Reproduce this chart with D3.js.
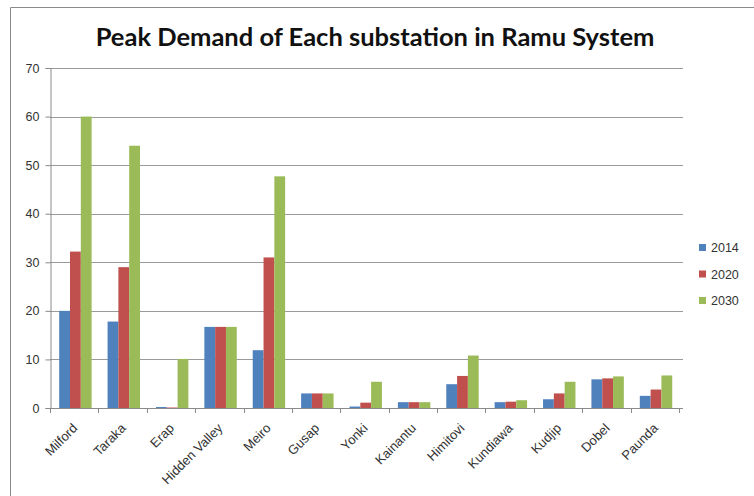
<!DOCTYPE html>
<html><head><meta charset="utf-8">
<script src="https://cdn.jsdelivr.net/npm/d3@7"></script>
<style>
html,body{margin:0;padding:0;background:#fff;}
svg{display:block;}
</style></head>
<body>
<svg id="c" width="754" height="496"></svg>
<script>
const categories = ["Milford","Taraka","Erap","Hidden Valley","Meiro","Gusap","Yonki","Kainantu","Himitovi","Kundiawa","Kudjip","Dobel","Paunda"];
const years = ["2014","2020","2030"];
const v2014 = [20, 17.8, 0.2, 16.7, 11.9, 3.0, 0.3, 1.2, 4.9, 1.2, 1.8, 5.9, 2.5];
const v2020 = [32.2, 29.0, 0.1, 16.7, 31.0, 3.0, 1.1, 1.2, 6.6, 1.3, 3.0, 6.1, 3.8];
const v2030 = [60, 54, 10.1, 16.7, 47.7, 3.0, 5.4, 1.2, 10.8, 1.6, 5.4, 6.5, 6.7];
const yTicks = [0,10,20,30,40,50,60,70];
const colors = ["#4F81BD","#C0504D","#9BBB59"];
const series = [v2014, v2020, v2030];

const svg = d3.select("#c");
const font = "'Liberation Sans', Arial, sans-serif";

// frame
svg.append("path").attr("d","M10.5,496 V7.5 H754").attr("fill","none").attr("stroke","#8a8a8a").attr("stroke-width",1);

const L = 50, R = 679, B = 408, T = 68;
const x = d3.scaleBand().domain(categories).range([L, R]).padding(0);
const bw = x.bandwidth();
const xs = d3.scaleBand().domain(years).range([bw*0.19, bw*0.86]).padding(0);
const y = d3.scaleLinear().domain([0,70]).range([B, T]);

// gridlines
svg.append("g").selectAll("line").data(yTicks.slice(1)).join("line")
  .attr("x1", L).attr("x2", R+4)
  .attr("y1", d=>Math.round(y(d))+0.5).attr("y2", d=>Math.round(y(d))+0.5)
  .attr("stroke","#9a9a9a").attr("stroke-width",1);

// bars
years.forEach((yr, si) => {
  svg.append("g").selectAll("rect").data(categories).join("rect")
    .attr("x", c => x(c) + xs(yr))
    .attr("width", xs.bandwidth())
    .attr("y", (c,i) => y(series[si][i]))
    .attr("height", (c,i) => B - y(series[si][i]))
    .attr("fill", colors[si]);
});

// y axis
const yAxis = d3.axisLeft(y).tickValues(yTicks).tickSize(5).tickPadding(6);
const gy = svg.append("g").attr("transform",`translate(${L+0.5},0)`).call(yAxis);
gy.select(".domain").attr("stroke","#8a8a8a");
gy.selectAll(".tick line").attr("stroke","#8a8a8a");
gy.selectAll(".tick text").attr("font-family",font).attr("font-size",12.5).attr("fill","#333");

// x axis
svg.append("line").attr("x1",L).attr("x2",R+4).attr("y1",B+0.5).attr("y2",B+0.5).attr("stroke","#8a8a8a");
const bounds = categories.map(c=>x(c)).concat([R]);
svg.append("g").selectAll("line").data(bounds).join("line")
  .attr("x1", d=>Math.round(d)+0.5).attr("x2", d=>Math.round(d)+0.5)
  .attr("y1", B).attr("y2", B+5).attr("stroke","#8a8a8a");

svg.append("g").selectAll("text").data(categories).join("text")
  .attr("transform", c => `translate(${x(c)+bw/2+4},${B+21}) rotate(-45)`)
  .attr("text-anchor","end")
  .attr("font-family",font).attr("font-size",13).attr("fill","#333")
  .text(c=>c);

// title
svg.append("text").attr("x",375).attr("y",46).attr("text-anchor","middle")
  .attr("font-family","Lato, 'Open Sans', sans-serif").attr("font-weight","bold").attr("font-size",25.5)
  .attr("fill","#111").text("Peak Demand of Each substation in Ramu System");

// legend
const lg = svg.append("g");
years.forEach((yr, i) => {
  const ly = 248 + i*26.5;
  lg.append("rect").attr("x",699).attr("y",ly-4).attr("width",7).attr("height",7).attr("fill",colors[i]);
  lg.append("text").attr("x",711).attr("y",ly+4).attr("font-family",font).attr("font-size",12.5).attr("fill","#333").text(yr);
});
</script>
</body></html>
